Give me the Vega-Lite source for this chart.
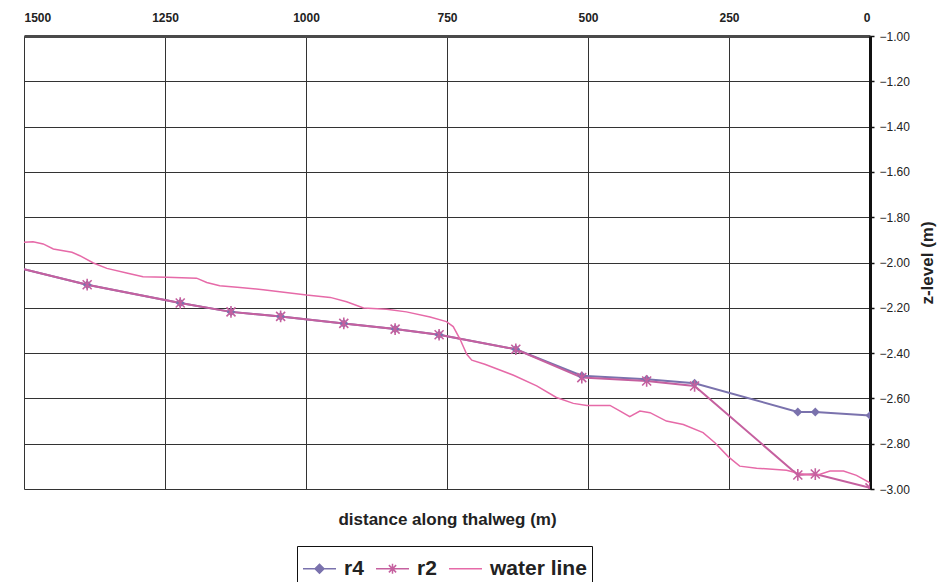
{
  "$schema": "https://vega.github.io/schema/vega-lite/v6.json",
  "width": 846,
  "height": 453,
  "autosize": "none",
  "padding": {"left": 24, "top": 36, "right": 69, "bottom": 93},
  "background": "white",
  "config": {
    "view": {"stroke": null},
    "font": "Liberation Sans"
  },
  "data": {
    "values": [
      {"series": "r4", "distance": 1500, "z": -2.03},
      {"series": "r4", "distance": 1388, "z": -2.098},
      {"series": "r4", "distance": 1223, "z": -2.179},
      {"series": "r4", "distance": 1133, "z": -2.218},
      {"series": "r4", "distance": 1045, "z": -2.238},
      {"series": "r4", "distance": 933, "z": -2.269},
      {"series": "r4", "distance": 842, "z": -2.294},
      {"series": "r4", "distance": 764, "z": -2.319},
      {"series": "r4", "distance": 628, "z": -2.383},
      {"series": "r4", "distance": 511, "z": -2.5},
      {"series": "r4", "distance": 396, "z": -2.515},
      {"series": "r4", "distance": 311, "z": -2.533},
      {"series": "r4", "distance": 128, "z": -2.66},
      {"series": "r4", "distance": 97, "z": -2.66},
      {"series": "r4", "distance": 0, "z": -2.675},
      {"series": "r2", "distance": 1500, "z": -2.03},
      {"series": "r2", "distance": 1388, "z": -2.098},
      {"series": "r2", "distance": 1223, "z": -2.179},
      {"series": "r2", "distance": 1133, "z": -2.218},
      {"series": "r2", "distance": 1045, "z": -2.238},
      {"series": "r2", "distance": 933, "z": -2.269},
      {"series": "r2", "distance": 842, "z": -2.294},
      {"series": "r2", "distance": 764, "z": -2.319},
      {"series": "r2", "distance": 628, "z": -2.383},
      {"series": "r2", "distance": 511, "z": -2.508},
      {"series": "r2", "distance": 396, "z": -2.523},
      {"series": "r2", "distance": 311, "z": -2.545},
      {"series": "r2", "distance": 128, "z": -2.938},
      {"series": "r2", "distance": 97, "z": -2.934},
      {"series": "r2", "distance": 0, "z": -2.995},
      {"series": "water line", "distance": 1500, "z": -1.911},
      {"series": "water line", "distance": 1484, "z": -1.908},
      {"series": "water line", "distance": 1466, "z": -1.918},
      {"series": "water line", "distance": 1448, "z": -1.94},
      {"series": "water line", "distance": 1415, "z": -1.955},
      {"series": "water line", "distance": 1401, "z": -1.97},
      {"series": "water line", "distance": 1377, "z": -2.002},
      {"series": "water line", "distance": 1353, "z": -2.026},
      {"series": "water line", "distance": 1318, "z": -2.046},
      {"series": "water line", "distance": 1289, "z": -2.063},
      {"series": "water line", "distance": 1247, "z": -2.065},
      {"series": "water line", "distance": 1194, "z": -2.069},
      {"series": "water line", "distance": 1176, "z": -2.088},
      {"series": "water line", "distance": 1153, "z": -2.103},
      {"series": "water line", "distance": 1117, "z": -2.11},
      {"series": "water line", "distance": 1076, "z": -2.12},
      {"series": "water line", "distance": 999, "z": -2.144},
      {"series": "water line", "distance": 957, "z": -2.154},
      {"series": "water line", "distance": 928, "z": -2.173},
      {"series": "water line", "distance": 898, "z": -2.201},
      {"series": "water line", "distance": 857, "z": -2.206},
      {"series": "water line", "distance": 822, "z": -2.218},
      {"series": "water line", "distance": 780, "z": -2.241},
      {"series": "water line", "distance": 751, "z": -2.261},
      {"series": "water line", "distance": 739, "z": -2.283},
      {"series": "water line", "distance": 727, "z": -2.338},
      {"series": "water line", "distance": 715, "z": -2.405},
      {"series": "water line", "distance": 706, "z": -2.431},
      {"series": "water line", "distance": 683, "z": -2.449},
      {"series": "water line", "distance": 632, "z": -2.498},
      {"series": "water line", "distance": 591, "z": -2.545},
      {"series": "water line", "distance": 556, "z": -2.596},
      {"series": "water line", "distance": 526, "z": -2.622},
      {"series": "water line", "distance": 502, "z": -2.631},
      {"series": "water line", "distance": 461, "z": -2.631},
      {"series": "water line", "distance": 443, "z": -2.656},
      {"series": "water line", "distance": 426, "z": -2.681},
      {"series": "water line", "distance": 408, "z": -2.656},
      {"series": "water line", "distance": 390, "z": -2.663},
      {"series": "water line", "distance": 361, "z": -2.7},
      {"series": "water line", "distance": 331, "z": -2.715},
      {"series": "water line", "distance": 296, "z": -2.751},
      {"series": "water line", "distance": 275, "z": -2.796},
      {"series": "water line", "distance": 251, "z": -2.858},
      {"series": "water line", "distance": 231, "z": -2.899},
      {"series": "water line", "distance": 201, "z": -2.908},
      {"series": "water line", "distance": 148, "z": -2.917},
      {"series": "water line", "distance": 124, "z": -2.933},
      {"series": "water line", "distance": 95, "z": -2.94},
      {"series": "water line", "distance": 71, "z": -2.921},
      {"series": "water line", "distance": 47, "z": -2.921},
      {"series": "water line", "distance": 24, "z": -2.94},
      {"series": "water line", "distance": 0, "z": -2.973}
    ]
  },
  "encoding": {
    "y": {
      "field": "z",
      "type": "quantitative",
      "scale": {"domain": [-3, -1], "nice": false, "zero": false},
      "axis": {
        "orient": "right",
        "values": [-1, -1.2, -1.4, -1.6, -1.8, -2, -2.2, -2.4, -2.6, -2.8, -3],
        "format": ".2f",
        "grid": true,
        "gridColor": "#333333",
        "gridWidth": 1,
        "domain": true,
        "domainColor": "#111111",
        "domainWidth": 3,
        "ticks": true,
        "tickSize": 4,
        "tickWidth": 1.5,
        "tickColor": "#111111",
        "labelPadding": 5,
        "labelFont": "Liberation Sans",
        "labelFontSize": 12,
        "labelColor": "#222222",
        "title": "z-level (m)",
        "titleFont": "Liberation Sans",
        "titleFontSize": 17,
        "titleFontWeight": "bold",
        "titleColor": "#222222",
        "titleAngle": 270,
        "titleBaseline": "top",
        "titlePadding": 10
      }
    },
    "color": {
      "field": "series",
      "type": "nominal",
      "scale": {"domain": ["r4", "r2", "water line"], "range": ["#7a72ad", "#c5609f", "#e66aa8"]}
    }
  },
  "layer": [
    {
      "mark": {"type": "line", "strokeWidth": 2, "clip": true},
      "transform": [{"filter": "datum.series !== 'water line'"}],
      "encoding": {
        "x": {
          "field": "distance",
          "type": "quantitative",
          "scale": {"domain": [0, 1500], "reverse": true, "nice": false, "zero": false},
          "axis": {
            "orient": "top",
            "values": [0, 250, 500, 750, 1000, 1250, 1500],
            "format": "d",
            "grid": true,
            "gridColor": "#333333",
            "gridWidth": 1,
            "domain": true,
            "domainColor": "#4a4a4a",
            "domainWidth": 3,
            "ticks": false,
            "labelPadding": 12,
            "labelFont": "Liberation Sans",
            "labelFontSize": 12,
            "labelFontWeight": "bold",
            "labelColor": "#222222",
            "title": null
          }
        },
        "color": {
          "field": "series",
          "type": "nominal",
          "legend": {
            "orient": "none",
            "legendX": 273,
            "legendY": 510,
            "direction": "horizontal",
            "title": null,
            "strokeColor": "#111111",
            "fillColor": "white",
            "padding": 5,
            "cornerRadius": 0,
            "symbolSize": 1089,
            "symbolStrokeWidth": 2,
            "labelFont": "Liberation Sans",
            "labelFontSize": 21,
            "labelFontWeight": "bold",
            "labelColor": "#222222",
            "labelOffset": 7,
            "columnPadding": 9,
            "encode": {
              "symbols": {
                "update": {
                  "shape": {"signal": "datum.value === 'r4' ? 'M-1,0L1,0M0,-0.27L0.27,0L0,0.27L-0.27,0Z' : datum.value === 'r2' ? 'M-1,0L1,0M-0.22,-0.22L0.22,0.22M-0.22,0.22L0.22,-0.22M0,-0.3L0,0.3' : 'M-1,0L1,0'"},
                  "fill": {"signal": "scale('color', datum.value)"},
                  "stroke": {"signal": "scale('color', datum.value)"},
                  "strokeWidth": {"value": 1.5},
                  "opacity": {"value": 1},
                  "fillOpacity": {"value": 1}
                }
              }
            }
          }
        }
      }
    },
    {
      "mark": {"type": "line", "strokeWidth": 1.5, "clip": true},
      "transform": [{"filter": "datum.series === 'water line'"}],
      "encoding": {
        "x": {
          "field": "distance",
          "type": "quantitative",
          "axis": {
            "orient": "bottom",
            "labels": false,
            "ticks": false,
            "domain": false,
            "grid": false,
            "title": "distance along thalweg (m)",
            "titleFont": "Liberation Sans",
            "titleFontSize": 17,
            "titleFontWeight": "bold",
            "titleColor": "#222222",
            "titlePadding": 22
          }
        }
      }
    },
    {
      "mark": {"type": "point", "shape": "diamond", "filled": true, "size": 80, "opacity": 1, "clip": true},
      "transform": [{"filter": "datum.series === 'r4' && datum.distance < 1500"}],
      "encoding": {
        "x": {"field": "distance", "type": "quantitative", "axis": null}
      }
    },
    {
      "mark": {"type": "point", "shape": "M-1,-1L1,1M-1,1L1,-1M0,-1.3L0,1.3", "filled": false, "size": 81, "strokeWidth": 1.6, "opacity": 1, "clip": true},
      "transform": [{"filter": "datum.series === 'r2' && datum.distance < 1500"}],
      "encoding": {
        "x": {"field": "distance", "type": "quantitative", "axis": null}
      }
    }
  ],
  "resolve": {"axis": {"x": "independent"}}
}
